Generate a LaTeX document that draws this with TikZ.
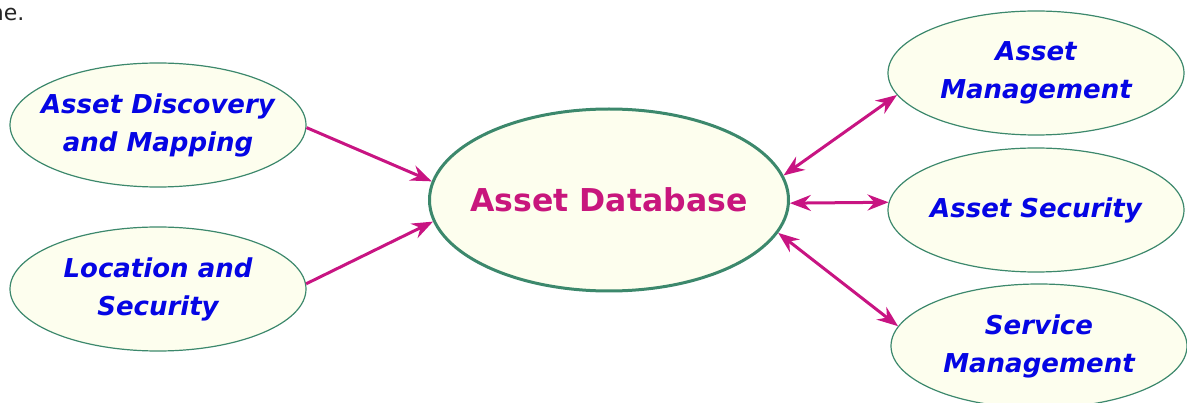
\documentclass[tikz,border=0pt]{standalone}
\usepackage{fontspec}
\setmainfont{DejaVu Sans}
\usetikzlibrary{shapes.geometric,arrows.meta}
\definecolor{elfill}{RGB}{253,254,238}
\definecolor{elline}{RGB}{60,136,108}
\definecolor{arr}{RGB}{200,20,130}
\definecolor{txtblue}{RGB}{5,5,228}
\definecolor{dbtxt}{RGB}{200,22,125}
\tikzset{
  side/.style={ellipse, draw=elline, line width=1.2pt, fill=elfill, inner xsep=-100pt, inner ysep=0pt,
    minimum width=296pt, minimum height=124pt, align=center, text=txtblue,
    font=\fontsize{26}{38}\selectfont\bfseries\itshape},
  hub/.style={ellipse, draw=elline, line width=3pt, fill=elfill, inner xsep=-110pt, inner ysep=0pt,
    minimum width=359pt, minimum height=182pt, text=dbtxt,
    font=\fontsize{31.5}{38}\selectfont\bfseries},
  link/.style={draw=arr, line width=3pt, -{Stealth[length=21pt,width=16pt,inset=7pt]}},
  dlink/.style={draw=arr, line width=3pt, {Stealth[length=21pt,width=16pt,inset=7pt]}-{Stealth[length=21pt,width=16pt,inset=7pt]}}
}
\begin{document}
\begin{tikzpicture}[x=1pt,y=-1pt]
\useasboundingbox (0,0) rectangle (1187,403);
\node[anchor=base east, font=\fontsize{22}{26}\selectfont, text=black!85] (frag) at (28,21) {ne.};
\node[side] (adm) at (158,125) {Asset Discovery\\and Mapping};
\node[side] (ls) at (158,289) {Location and\\Security};
\node[hub] (db) at (609,200) {Asset Database};
\node[side] (am) at (1036,73) {Asset\\Management};
\node[side] (as) at (1036,210) {Asset Security};
\node[side] (sm) at (1039,346) {Service\\Management};
\draw[link] (adm.-1) -- (db.174.4);
\draw[link] (ls.2.6) -- (db.187.2);
\draw[dlink] (db.8.5) -- (am.189.4);
\draw[dlink] (db.-1.3) -- (as.177.7);
\draw[dlink] (db.-11.2) -- (sm.172.9);
\end{tikzpicture}
\end{document}
